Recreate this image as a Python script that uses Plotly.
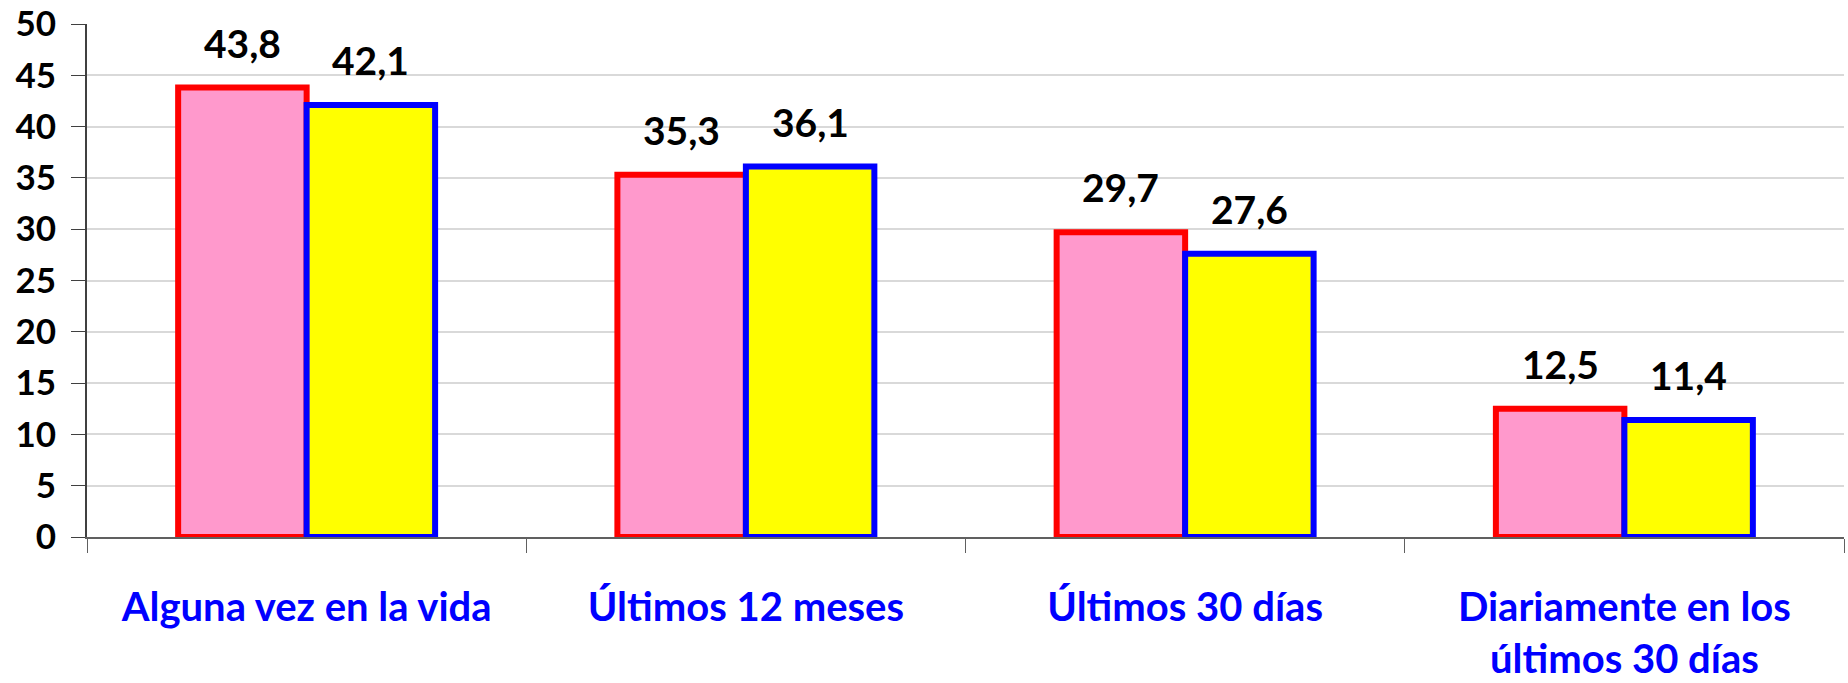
import plotly.graph_objects as go

# categorías y valores
categorias = ["Alguna vez en la vida", "Últimos 12 meses", "Últimos 30 días",
              "Diariamente en los<br>últimos 30 días"]
serie_1 = [43.8, 35.3, 29.7, 12.5]
serie_2 = [42.1, 36.1, 27.6, 11.4]
y_ticks = [0, 5, 10, 15, 20, 25, 30, 35, 40, 45, 50]

ANCHO, ALTO = 1848, 683
M_IZQ, M_DER, M_SUP, M_INF = 87, 4, 24, 146

fig = go.Figure()

fig.add_trace(go.Bar(
    x=categorias, y=serie_1,
    marker=dict(color="#FF99CC", line=dict(color="#FF0000", width=6)),
))
fig.add_trace(go.Bar(
    x=categorias, y=serie_2,
    marker=dict(color="#FFFF00", line=dict(color="#0000FF", width=6)),
))

# etiquetas de datos sobre cada barra (desplazadas al centro de su barra)
ancho_barra = (ANCHO - M_IZQ - M_DER) / len(categorias) * 0.585 / 2
for serie, desplazamiento in ((serie_1, -ancho_barra / 2), (serie_2, ancho_barra / 2)):
    for cat, val in zip(categorias, serie):
        fig.add_annotation(
            x=cat, y=val, text=f"{val:.1f}".replace(".", ","),
            xshift=desplazamiento, yshift=20, yanchor="bottom", showarrow=False,
            font=dict(family="Lato", size=39, color="black", weight="bold"),
        )

fig.update_layout(
    width=ANCHO, height=ALTO,
    margin=dict(l=M_IZQ, r=M_DER, t=M_SUP, b=M_INF),
    barmode="group", bargap=0.415, bargroupgap=0,
    showlegend=False,
    plot_bgcolor="white", paper_bgcolor="white",
)

fig.update_yaxes(
    range=[0, 50], tickvals=y_ticks, automargin=False,
    showgrid=True, gridcolor="#D9D9D9", gridwidth=2,
    showline=True, linecolor="#404040", linewidth=2,
    ticks="outside", ticklen=14, tickcolor="#404040", tickwidth=1,
    tickfont=dict(family="Lato", size=35, color="black", weight="bold"),
    ticklabelstandoff=8, ticklabeloverflow="allow",
    zeroline=False,
)
fig.update_xaxes(
    automargin=False,
    showline=True, linecolor="#606060", linewidth=2,
    ticks="outside", tickson="boundaries", ticklen=14, tickcolor="#606060",
    tickfont=dict(family="Lato", size=40, color="#0000FF", weight="bold"),
    ticklabelstandoff=34, ticklabeloverflow="allow",
)

# quitar el margen por defecto del body para que la figura ocupe toda la ventana
fig.write_html("out.html", config={"displayModeBar": False},
               post_script="document.body.style.margin='0';")
